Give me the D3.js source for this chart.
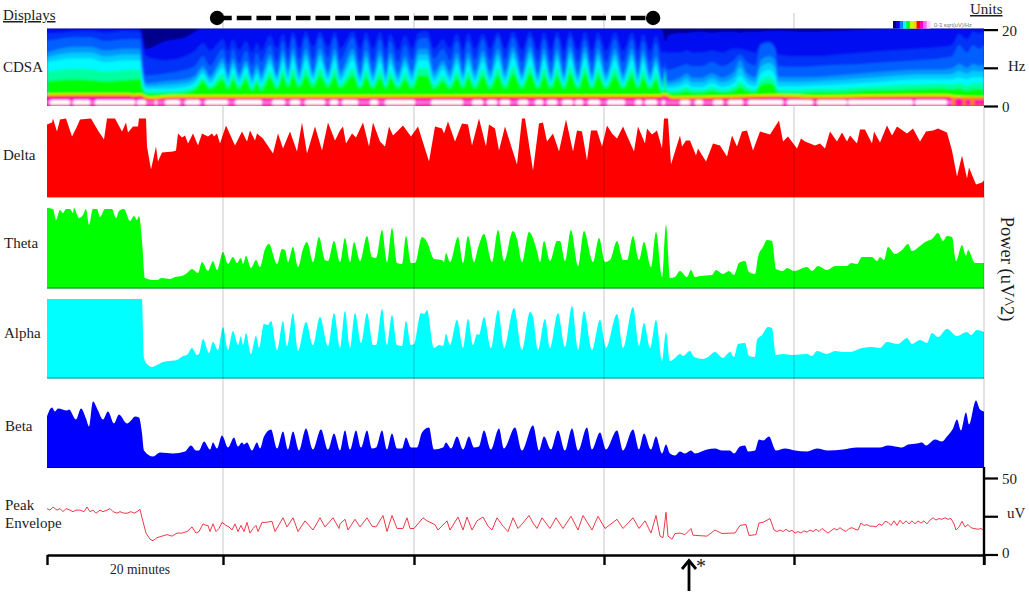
<!DOCTYPE html>
<html><head><meta charset="utf-8">
<script src="https://cdn.jsdelivr.net/npm/d3@7"></script>
<style>html,body{margin:0;background:#fff}svg{display:block}text{font-family:"Liberation Serif","Times New Roman",serif;fill:#1c1c1c}</style>
</head><body><svg id="c" width="1029" height="594"></svg>
<script>
// epochs: one epoch = 1/9.5 minute; power in uV^2 (relative), peak envelope in uV, contours in Hz
const tickEpochs=[0,176,367,557,747,937];
const delta=[[0,73],[5,75],[6,79],[10,66],[13,78],[19,79],[25,61],[30,71],[33,78],[44,79],[51,67],[57,58],[60,79],[68,79],[75,66],[79,75],[81,65],[86,71],[91,71],[92,79],[99,79],[100,51],[104,28],[109,51],[111,36],[115,45],[126,46],[129,47],[131,64],[135,60],[138,62],[141,54],[146,64],[151,52],[155,64],[161,61],[165,64],[167,61],[170,64],[173,54],[179,72],[188,52],[195,66],[200,56],[203,67],[208,57],[210,64],[216,59],[226,44],[231,64],[236,49],[243,66],[250,46],[255,75],[260,44],[268,71],[275,47],[281,75],[288,57],[293,67],[296,71],[299,54],[305,64],[309,60],[316,75],[322,51],[326,75],[333,56],[338,51],[342,71],[346,62],[356,72],[364,61],[371,71],[382,36],[388,71],[395,69],[397,64],[401,76],[408,56],[415,74],[421,73],[425,52],[432,79],[439,51],[442,73],[448,69],[452,47],[458,71],[470,33],[475,79],[478,79],[486,27],[492,74],[496,75],[500,56],[506,64],[512,46],[519,78],[526,46],[530,67],[535,66],[540,37],[544,67],[550,67],[555,51],[560,72],[565,64],[570,59],[576,71],[587,46],[591,71],[598,54],[600,69],[605,63],[610,67],[615,49],[617,79],[621,79],[624,33],[628,46],[633,62],[635,51],[639,57],[643,57],[649,42],[651,49],[659,36],[666,54],[673,52],[680,41],[685,62],[690,51],[695,66],[700,67],[706,47],[713,66],[723,63],[732,77],[736,56],[741,61],[750,49],[754,59],[758,56],[768,52],[773,54],[778,49],[783,66],[790,56],[795,65],[800,56],[803,62],[810,54],[813,68],[818,68],[825,54],[827,66],[833,55],[840,72],[845,62],[850,71],[860,64],[866,69],[873,56],[879,66],[886,67],[891,69],[900,65],[905,47],[910,21],[915,42],[920,19],[922,30],[929,13],[935,15],[937,17]];
const theta=[[0,80],[6,79],[9,68],[13,78],[16,75],[19,79],[23,79],[26,75],[27,80],[32,70],[36,73],[39,79],[42,63],[46,79],[50,79],[53,71],[58,79],[65,79],[69,70],[72,77],[77,79],[83,67],[87,72],[90,68],[92,72],[95,47],[98,10],[106,8],[110,8],[115,10],[123,9],[128,11],[135,12],[140,15],[145,19],[151,15],[155,26],[161,17],[166,27],[170,18],[176,36],[181,24],[186,31],[190,25],[194,30],[196,24],[199,32],[204,20],[209,28],[213,21],[218,39],[222,44],[230,24],[235,39],[238,38],[241,26],[246,41],[251,21],[256,39],[260,46],[266,26],[272,51],[278,28],[281,27],[287,47],[293,26],[298,50],[303,26],[307,46],[313,27],[320,52],[325,31],[329,30],[335,58],[340,26],[345,60],[350,25],[355,24],[359,52],[364,25],[368,25],[375,51],[380,46],[387,29],[395,28],[397,26],[399,35],[403,26],[411,51],[416,25],[421,52],[427,26],[431,40],[437,54],[445,26],[451,58],[457,27],[466,57],[470,49],[475,26],[482,56],[490,37],[493,26],[497,47],[503,27],[510,47],[513,47],[518,27],[524,58],[531,22],[537,57],[546,26],[552,50],[558,26],[563,28],[570,47],[576,28],[580,28],[586,52],[592,28],[597,46],[604,21],[609,56],[615,11],[619,63],[623,10],[628,11],[633,17],[640,11],[644,18],[648,11],[653,12],[665,13],[669,18],[676,14],[682,17],[687,13],[692,25],[698,27],[702,16],[708,14],[711,31],[716,41],[720,48],[725,47],[729,19],[736,17],[740,20],[747,17],[760,21],[765,17],[771,22],[780,18],[788,22],[800,22],[804,25],[810,24],[815,31],[825,31],[830,27],[833,31],[837,28],[841,41],[848,34],[855,38],[861,44],[865,37],[873,42],[878,46],[885,49],[891,55],[896,47],[900,52],[905,51],[909,27],[915,43],[919,32],[921,38],[928,25],[937,25]];
const alpha=[[0,79],[95,79],[97,20],[100,14],[105,11],[110,13],[116,16],[123,17],[130,18],[136,22],[140,23],[145,30],[150,23],[152,24],[156,39],[162,25],[166,36],[171,28],[176,51],[181,28],[186,47],[191,33],[194,42],[196,33],[199,45],[204,24],[209,42],[212,30],[217,54],[221,53],[224,57],[230,28],[236,57],[240,32],[246,65],[251,27],[259,56],[266,33],[273,61],[281,32],[287,65],[293,30],[298,67],[303,30],[308,65],[314,35],[320,65],[326,33],[329,33],[335,69],[340,33],[345,63],[350,33],[355,32],[359,57],[364,33],[367,34],[374,65],[377,64],[380,68],[387,30],[392,33],[396,32],[399,44],[403,33],[410,58],[416,30],[421,59],[426,33],[430,44],[432,43],[437,61],[444,30],[451,68],[457,30],[467,70],[475,28],[483,66],[486,61],[491,28],[498,59],[503,30],[511,65],[518,31],[525,72],[531,28],[537,67],[545,28],[553,58],[559,30],[570,64],[576,30],[586,71],[592,32],[597,55],[603,30],[609,58],[615,17],[619,46],[623,17],[628,20],[633,24],[636,22],[643,27],[647,21],[656,19],[661,21],[668,26],[676,20],[683,26],[687,21],[691,34],[698,35],[702,22],[708,21],[710,38],[715,43],[721,51],[725,50],[729,23],[736,24],[745,23],[760,24],[765,22],[770,27],[780,24],[788,27],[796,26],[803,26],[815,30],[825,31],[833,30],[840,36],[851,34],[860,40],[865,34],[873,38],[880,35],[885,45],[891,41],[900,49],[910,42],[920,46],[924,43],[930,48],[937,46]];
const beta=[[0,51],[5,60],[8,56],[11,59],[20,57],[22,58],[29,48],[34,59],[39,49],[42,41],[46,66],[51,57],[56,48],[61,56],[67,44],[72,53],[80,44],[84,47],[88,51],[92,50],[95,34],[97,17],[106,11],[113,15],[126,14],[138,16],[144,22],[149,17],[152,17],[157,26],[163,18],[166,25],[170,19],[175,32],[181,20],[187,30],[191,21],[195,25],[197,23],[200,25],[205,17],[210,25],[213,19],[217,31],[224,38],[230,19],[236,36],[241,18],[246,36],[252,17],[259,39],[266,18],[274,38],[281,18],[287,34],[293,17],[298,37],[303,18],[309,37],[314,20],[320,37],[325,19],[329,20],[335,37],[340,18],[345,34],[350,19],[355,19],[359,30],[364,20],[370,20],[375,35],[382,40],[387,18],[396,20],[399,25],[404,19],[410,31],[416,18],[422,31],[427,20],[432,21],[437,37],[444,18],[452,39],[457,19],[468,40],[475,17],[486,42],[492,17],[497,31],[504,18],[511,37],[518,17],[525,39],[531,17],[540,40],[545,18],[553,35],[559,18],[570,37],[576,17],[586,38],[592,18],[597,34],[604,18],[609,31],[615,14],[619,23],[623,14],[628,12],[633,16],[638,14],[644,17],[648,14],[660,18],[668,19],[675,17],[683,17],[687,14],[693,21],[698,22],[701,16],[708,17],[712,28],[716,27],[722,31],[729,17],[738,19],[748,17],[760,16],[770,19],[781,17],[796,18],[810,20],[833,20],[841,22],[848,21],[855,20],[861,23],[870,24],[875,25],[879,22],[888,28],[895,26],[900,31],[906,39],[910,48],[914,37],[919,55],[922,43],[929,67],[933,58],[937,56]];
const envelope=[[0,30],[3,29],[6,31],[10,29],[13,30],[16,28],[19,30],[23,29],[26,28],[29,29],[33,29],[37,28],[40,31],[43,28],[46,29],[49,27],[53,29],[56,28],[60,29],[63,30],[66,28],[70,27],[73,28],[77,27],[80,27],[84,28],[87,27],[90,28],[93,29.5],[95,24],[99,14],[103,10],[106,9],[110,11],[115,12],[120,13],[125,12],[130,14],[135,14],[140,15],[145,18],[149,14],[152,15],[156,20],[159,19],[161,19],[163,15],[166,20],[169,15],[172,17],[175,21],[179,19],[182,18],[185,16],[188,20],[191,15],[194,19],[197,15],[200,21],[203,14],[206,17],[209,19],[211,15],[215,21],[219,21],[225,21.7],[228,15],[236,24],[240,18],[246,24],[251,15],[258,22],[266,16],[273,24],[278,18],[286,24],[292,17],[293,20],[298,23],[301,16],[308,23],[313,18],[320,24],[325,18.5],[329,18],[336,25.5],[340,15],[345,25.5],[350,17],[356,17],[360,24],[363,17],[367,17],[376,24],[380,22],[388,19.5],[391,16],[400,22],[403,16],[411,24.5],[416,16],[420,24.5],[425,16],[430,22],[436,24.5],[441,18.5],[445,16],[450,24],[456,18.5],[461,15],[466,24],[471,17],[476,20.6],[482,25.5],[486,20.6],[490,17],[495,24],[503,17],[509,24],[516,17],[524,25],[531,16],[536,25.5],[545,16],[551,25],[558,17],[570,23],[576,17],[586,24],[592,17],[598,22],[604,14],[609,25.5],[613,12],[616,11],[619,27.6],[621,12],[625,10],[628,13.7],[633,14],[638,13],[644,17],[646,12.6],[660,12],[668,16],[675,13.7],[683,14],[688,14],[693,19],[699,19.6],[702,12.4],[709,13],[712,20.6],[716,21],[723,23.5],[727,16],[730,15],[733,16],[736,15],[739,16.5],[742,15],[745,15.8],[748,14],[751,15],[754,14],[757,15.5],[760,14.6],[763,16],[766,15],[769,16.5],[772,15],[775,17],[778,15.5],[781,14],[784,15.5],[787,17],[790,16],[793,17.5],[796,16],[799,15],[802,17],[805,17.5],[808,16.5],[811,16],[814,20.6],[817,19],[820,19.5],[823,18.5],[826,18.5],[829,18],[832,20],[835,19],[838,21.7],[841,21],[844,19],[847,22],[850,19],[853,22.4],[856,20],[859,22],[862,20],[865,22],[868,20],[871,22],[874,20.5],[877,22],[880,20],[883,22.5],[886,24],[889,22.5],[892,23.5],[895,23],[898,24],[901,23],[904,23.5],[907,20],[909,16],[912,18],[915,21.7],[918,18],[921,19.6],[924,17.5],[927,17],[931,16.5],[934,17],[936,16]];
// CDSA contours, Hz: [epoch, green, cyan, sky, mid, royal, navyFloor]
const contours=[[0,6.5,11.5,14,17,19,20.4],[28,7,12.5,15.5,18,19.5,20.4],[43,6.8,12.5,15.5,18,19.7,20.4],[58,6.5,11.5,14.5,17,19.2,20.4],[78,6.8,12,15,17.5,19.7,20.4],[93,7,12,15,17.5,19.5,20.4],[95,5,8,10,13,17,19],[99,3.2,4.5,6,8,13,15],[118,3.2,4.5,6.5,8.5,12,17],[138,3.5,5,7,9.5,13,18],[148,4.3,6,8,10.5,14.5,19.5],[156,6.5,8.5,10.5,13,16.5,20.4],[163,4.5,6,8,10.5,14.5,20.4],[176,7,10,12.5,15,17.5,20.4],[181,4.5,6.2,8.5,11,14.5,20.4],[186,7,10,12.5,15,17.5,20.4],[192,4.5,6.2,8.5,11,14.5,20.4],[199,7,10,12,14.5,17,20.4],[205,4,5.5,8,10.5,14,20.4],[210,6,8.5,11,14,16.5,20.4],[214,4,6,8.5,11.5,14.5,20.4],[223,7.5,11,13.5,16,18.5,20.4],[230,4.5,6.5,8.5,11.5,15,20.4],[236,8,11.5,14.5,17,19,20.4],[241,5,7,9.5,12,15,20.4],[246,8,12,15,18,19.5,20.4],[252,5,6.5,9,12,15,20.4],[259,8,12,15,18,19.5,20.4],[266,5,7,9,12,15.5,20.4],[273,8,12,15,18,19.5,20.4],[281,5,7,9,12.5,15.5,20.4],[288,8,12,15,18,19.5,20.4],[293,4.8,6.5,9,12,15,20.4],[306,8,12,15,18,19.5,20.4],[313,4.6,6.2,8.5,11.5,15,20.4],[319,7.5,11.5,14.5,17.5,19.3,20.4],[326,4.6,6.2,8.5,11.5,15,20.4],[333,7.5,11.5,14.5,17.5,19.3,20.4],[339,4.6,6.2,8.5,11.5,15,20.4],[343,7.5,11,14,17,19,20.4],[351,4.6,6.2,8.5,11.5,14.5,20.4],[358,7,10.5,13,16,18.5,20.4],[365,4.6,6.5,9,12,15,20.4],[372,8,12,15,17.5,19.3,20.4],[380,8,12,15,17.8,19.5,20.4],[387,4.6,6.5,9,12.5,15,20.4],[396,6.5,9.5,12,15,17.5,20.4],[403,4.6,6.5,9,12,15,20.4],[410,7.5,11,14,17,19,20.4],[416,4.6,6.5,8.5,11.5,14.5,20.4],[421,7.5,11,14,17,19,20.4],[428,4.6,6.5,9,12,15,20.4],[436,8,11.5,14.5,17.5,19,20.4],[443,4.6,6.5,9,12,15,20.4],[451,8,12,15,18,19.3,20.4],[458,4.6,6.5,9,12,15,20.4],[466,8.5,12.5,15.5,18,19.5,20.4],[475,4.6,6.5,8.5,11.5,14.5,20.4],[483,8.5,12.5,15.5,18,19.5,20.4],[491,4.6,6.2,8.5,11.5,14.5,20.4],[497,8,12,15,17.5,19.3,20.4],[504,4.6,6.2,8.5,11.5,14.5,20.4],[510,8,12,15,18,19.5,20.4],[517,4.6,6.2,8.5,11.5,14.5,20.4],[523,8.5,12.5,15.5,18,19.5,20.4],[531,4.6,6.2,8.5,11.5,14.5,20.4],[538,8.5,12.5,15.5,17.5,19.5,20.4],[545,4.6,6.2,8.5,11.5,14.5,20.4],[551,8,12,15,17.5,19.3,20.4],[559,4.6,6.2,8.5,11.5,14.5,20.4],[568,8,12,15,17.5,19.3,20.4],[576,4.6,6.2,8.5,11.5,14.5,20.4],[585,8,12,15,17.5,19.3,20.4],[591,4.6,6.2,8.5,11.5,14.5,20.4],[596,7.5,11.5,14.5,17,19,20.4],[603,4.6,6.2,8.5,11.5,14.5,20.4],[609,7,10.5,13,16.5,18.5,20.4],[615,3.6,5,7,10,14,20],[617,3.6,5,7,10,14,18.5],[618,8,9,10,12,15,17],[619,4,5,7,10,14,17],[621,3.4,4.8,6.5,9.5,14,18.5],[633,3.5,5.2,7.4,10.4,14,19.2],[640,4,6,8.5,11,14.5,19.2],[645,3.5,5,7.4,10.4,14,19.4],[655,3.5,5,7.4,10.4,14,19.5],[665,4,6,8.5,11.5,14.5,19.3],[675,3.5,5,7.4,10.4,14,19.5],[687,4,6,9,12,15,19.5],[693,5,8,12,13.5,15,19.3],[700,4,6,8.5,11.5,14.5,19.5],[708,3.6,5.2,7.6,10.6,14,19.5],[714,5.5,8.5,12,16,16.5,19.6],[722,6,9.5,13,16.5,17,19.7],[728,5,8,12,15,15.5,19.8],[731,3.5,5.2,7.6,10.4,13.5,19.8],[750,3.4,5.2,7.5,10.2,13,19.6],[770,3.6,5.4,7.6,10.5,13,19.6],[790,3.6,5.6,8,10.8,13.5,19.7],[815,4,6,8.5,11,14,20],[840,4.2,6.5,9,11.5,14.5,20.4],[870,4.4,7,9.5,12,15,20.4],[895,4.6,7,9.5,12.5,15.5,20.4],[905,4.4,7,9.8,13,16,20.4],[912,4.6,7.5,11,16,19,20.4],[920,4,7,10,14,17.5,20.4],[926,4.4,7.5,11,16,19.5,20.4],[932,4.4,7.5,10.5,15,19,20.4],[937,4.4,7.5,11,16,19.5,20.4]];
const yellowTop=[[0,3.2],[45,3.3],[81,3.3],[86,3.1],[93,3.2],[100,2.5],[105,2.4],[125,2.8],[300,2.8],[430,2.9],[560,2.9],[612,2.9],[618,3.2],[625,2.5],[680,2.7],[730,3],[770,2.7],[860,3],[900,3],[910,2.6],[937,2.4]];
const whiteSpans=[[3,23],[26,43],[48,88],[90,99],[108,110],[118,133],[138,153],[158,181],[188,215],[225,238],[243,253],[258,278],[283,291],[295,311],[323,331],[338,368],[384,416],[425,436],[440,450],[453,463],[471,481],[488,496],[500,510],[515,526],[528,536],[541,553],[560,578],[588,595],[598,610],[615,618],[633,643],[648,656],[666,676],[681,696],[701,736],[740,766],[770,800],[801,866],[868,900]];
const bandEnd=905;
const spots=[912,921,930,935];
const legendColors=["#000070","#0000ff","#0080ff","#00ffff","#00ff00","#c8ff00","#ffd000","#ff0000","#ff00c0","#ff60ff","#ffd0ff"];
const dosePeriod=[17.9,63.8]; // minutes: black bar
const arrowEpoch=642;

const svg=d3.select("#c");
const x=d3.scaleLinear().domain([0,937]).range([47,984]);
const minuteX=m=>x(m*9.5);
const yHz=d3.scaleLinear().domain([0,20]).range([106,29.6]);
const yUV=d3.scaleLinear().domain([0,50]).range([554.5,478]);
const defs=svg.append("defs");
defs.append("filter").attr("id","soft").attr("x","-2%").attr("y","-10%").attr("width","104%").attr("height","120%").append("feGaussianBlur").attr("stdDeviation",1.0);
defs.append("filter").attr("id","soft2").attr("x","-2%").attr("y","-10%").attr("width","104%").attr("height","120%").append("feGaussianBlur").attr("stdDeviation",0.4);
defs.append("filter").attr("id","soft3").attr("x","-2%").attr("y","-10%").attr("width","104%").attr("height","120%").append("feGaussianBlur").attr("stdDeviation",0.7);
defs.append("clipPath").attr("id","cd").append("rect").attr("x",47).attr("y",28.5).attr("width",937).attr("height",77.5);

// Grid lines (drawn before the spectrogram so they only show outside it)
const grid=(y1,y2,vals)=>svg.append("g").selectAll("line").data(vals).join("line")
 .attr("x1",d=>x(d)).attr("x2",d=>x(d)).attr("y1",y1).attr("y2",y2)
 .attr("stroke","#000").attr("stroke-opacity",.17).attr("stroke-width",1.3);
grid(13,28,tickEpochs.slice(1,5));

// CDSA
const cd=svg.append("g").attr("clip-path","url(#cd)");
const inner=cd.append("g").attr("filter","url(#soft)");
inner.append("rect").attr("x",x(0)-3).attr("y",24).attr("width",944).attr("height",90).attr("fill","#0008f0");
const mono=d3.curveMonotoneX;
const areaOf=(data,top,curve)=>d3.area().curve(curve||mono).x(d=>x(d[0])).y0(yHz(-2)).y1(d=>yHz(top(d)))(data);
inner.append("path").attr("fill","#00008c").attr("d",d3.area().curve(mono).x(d=>x(d[0])).y0(yHz(22)).y1(d=>yHz(d[6]))(contours));
[[d=>d[5],"#0030f8"],[d=>d[4],"#0060ff"],[d=>d[3],"#0098ff"],[d=>(d[3]+d[2])/2,"#00ccff"],[d=>d[2],"#00f8ff"],[d=>(d[1]+d[2])/2,"#00ffa0"],[d=>d[1],"#00ff00"]]
 .forEach(([f,c])=>inner.append("path").attr("fill",c).attr("d",areaOf(contours,f)));
[[0,"#e8f000"],[-0.35,"#ff9000"],[-0.7,"#ff0000"],[-1,"#ff10c8"]].forEach(([o,c])=>inner.append("path").attr("fill",c).attr("d",areaOf(yellowTop,d=>d[1]+o)));
inner.append("rect").attr("x",x(0)).attr("width",x(bandEnd)-x(0)).attr("y",yHz(1.4)).attr("height",yHz(0.45)-yHz(1.4)).attr("fill","#ff70e0");
inner.selectAll("rect.w").data(whiteSpans).join("rect").attr("class","w").attr("x",d=>x(d[0])).attr("width",d=>x(d[1])-x(d[0])).attr("y",yHz(1.6)).attr("height",yHz(0.3)-yHz(1.6)).attr("fill","#fff").attr("rx",1.5);
inner.append("rect").attr("x",x(bandEnd)).attr("width",x(937)-x(bandEnd)+3).attr("y",yHz(2.3)).attr("height",yHz(-1)-yHz(2.3)).attr("fill","#ff8010");
inner.selectAll("circle.s").data(spots).join("circle").attr("class","s").attr("cx",d=>x(d)).attr("cy",yHz(0.95)).attr("r",(d,i)=>i==0?4.2:2.8).attr("fill","#ff10b0");
inner.append("rect").attr("x",x(0)-3).attr("width",944).attr("y",yHz(0.12)).attr("height",8).attr("fill","#e02840");
cd.append("rect").attr("x",47).attr("y",28.5).attr("width",937).attr("height",1).attr("fill","#223").attr("opacity",.45);

// Band powers
const panels=[
 {d:delta,c:"#ff0000",line:"#b8b8b8",r:[197.5,117.5],m:80,w:1.2,curve:d3.curveLinear},
 {d:theta,c:"#00ff00",line:"#22a53c",r:[288,208],m:80,w:1.6,curve:mono},
 {d:alpha,c:"#00ffff",line:"#30a8b0",r:[378,298],m:80,w:1.6,curve:mono},
 {d:beta,c:"#0000ff",line:"#000090",r:[467.5,407.5],m:60,w:1,curve:mono}
];
panels.forEach(p=>{
  const y=d3.scaleLinear().domain([0,p.m]).range(p.r);
  svg.append("path").attr("filter","url(#soft2)").attr("fill",p.c).attr("d",d3.area().curve(p.curve).x(d=>x(d[0])).y0(y(0)).y1(d=>y(d[1]))(p.d));
  svg.append("line").attr("x1",x(0)).attr("x2",x(937)).attr("y1",y(0)).attr("y2",y(0)).attr("stroke",p.line).attr("stroke-width",p.w);
});

// Peak envelope
svg.append("path").attr("fill","none").attr("stroke","#ee3a48").attr("stroke-width",1).attr("stroke-linejoin","round").attr("d",d3.line().x(d=>x(d[0])).y(d=>yUV(d[1]))(envelope));

grid(106,555,tickEpochs.slice(1));

// Axes
const bot=svg.append("g").attr("transform","translate(0,555)").call(d3.axisBottom(x).tickValues(tickEpochs).tickFormat("").tickSizeInner(10).tickSizeOuter(0));
bot.selectAll("path").attr("stroke","#000").attr("stroke-width",2.4);
bot.selectAll("line").attr("stroke","#000").attr("stroke-width",2.4);
const hzAxis=svg.append("g").attr("transform","translate(984,0)").call(d3.axisRight(yHz).tickValues([0,10,20]).tickFormat("").tickSizeInner(14).tickSizeOuter(0));
hzAxis.select("path").remove();
hzAxis.selectAll("line").attr("stroke","#000").attr("stroke-width",2.2);
const uvAxis=svg.append("g").attr("transform","translate(984,0)").call(d3.axisRight(yUV).tickValues([0,25,50]).tickFormat("").tickSizeInner(14).tickSizeOuter(0));
uvAxis.select("path").remove();
uvAxis.selectAll("line").attr("stroke","#000").attr("stroke-width",2.2);
svg.append("line").attr("x1",984).attr("x2",984).attr("y1",467).attr("y2",565).attr("stroke","#000").attr("stroke-width",2.4);

// Text
const labels=[["Displays",3,20,15,true],["CDSA",3,72,15],["Delta",3,160,15],["Theta",4,248,15],["Alpha",4,338,15],["Beta",5,431,15],["Peak",5,510,15],["Envelope",5,528,15],["20 minutes",110,574,13.6],["Units",970,14,15,true],["20",1002,36,15],["Hz",1008,71,15],["0",1002,112,15],["50",1002,484,15],["uV",1007,518,15],["0",1002,558,15]];
labels.forEach(([t,a,b,s,u])=>svg.append("text").attr("x",a).attr("y",b).attr("font-size",s).attr("text-decoration",u?"underline":null).text(t));
svg.append("text").attr("transform","translate(1001,269) rotate(90)").attr("text-anchor","middle").attr("font-size",18.5).text("Power (uV^2)");

// Colour legend
const lx=d3.scaleBand().domain(legendColors).range([893,930]);
svg.selectAll("rect.l").data(legendColors).join("rect").attr("class","l").attr("x",d=>lx(d)).attr("y",21).attr("width",lx.bandwidth()+.5).attr("height",7.5).attr("fill",d=>d);
svg.append("text").attr("x",934).attr("y",27).attr("font-size",5.6).style("font-family","'Liberation Sans',sans-serif").style("fill","#777").text("0-3 sqrt(uV)/Hz");

// Black bar
const by=18;
svg.append("line").attr("x1",minuteX(dosePeriod[0])).attr("x2",minuteX(dosePeriod[1])).attr("y1",by).attr("y2",by).attr("stroke","#000").attr("stroke-width",4.4).attr("stroke-dasharray","14.7,5");
svg.selectAll("circle.e").data(dosePeriod).join("circle").attr("class","e").attr("cx",d=>minuteX(d)).attr("cy",by).attr("r",7.2).attr("fill","#000");

// Arrow
const ax=x(arrowEpoch);
svg.append("line").attr("x1",ax).attr("x2",ax).attr("y1",591).attr("y2",561).attr("stroke","#000").attr("stroke-width",2.8);
svg.append("path").attr("fill","none").attr("stroke","#000").attr("stroke-width",2.8).attr("d",d3.line()([[ax-7,569],[ax,560.5],[ax+7,569]]));
svg.append("text").attr("x",696).attr("y",573).attr("font-size",20).text("*");
</script></body></html>
